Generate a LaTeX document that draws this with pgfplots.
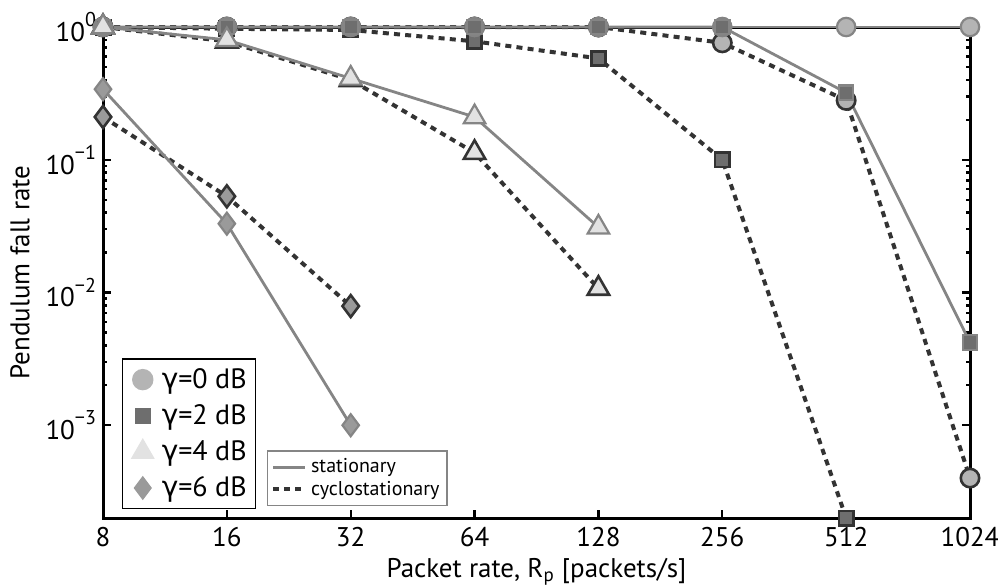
\documentclass[border=0pt]{standalone}
\usepackage{fontspec}
\setmainfont{PT Sans}
\newfontfamily\gfont{DejaVu Sans}
\usepackage{pgfplots}
\pgfplotsset{compat=1.18}

\definecolor{cA}{HTML}{B4B4B4}
\definecolor{cAd}{HTML}{838383}
\definecolor{cB}{HTML}{6E6E6E}
\definecolor{cC}{HTML}{E2E2E2}
\definecolor{cD}{HTML}{9A9A9A}
\definecolor{stat}{HTML}{858585}
\definecolor{cyc}{HTML}{333333}

\newcommand{\expo}[1]{\raisebox{0.55em}{\fontsize{10}{10}\selectfont #1}}

\pgfplotsset{
  stat/.style={color=stat, line width=1.4pt, solid},
  cyc/.style={color=cyc, line width=2pt, dash pattern=on 3pt off 2.6pt},
}

\begin{document}
\begin{tikzpicture}
\useasboundingbox (-51.5pt,-34pt) rectangle (447.5pt,259pt);
\begin{axis}[
  scale only axis, width=433.5pt, height=245.5pt,
  xmode=log, log basis x=2, ymode=log,
  xmin=8, xmax=1024, ymin=2e-4, ymax=1,
  xtick={8,16,32,64,128,256,512,1024},
  xticklabels={8,16,32,64,128,256,512,1024},
  ytick={1e-3,1e-2,1e-1,1},
  yticklabels={10\expo{−3},10\expo{−2},10\expo{−1},10\expo{0}},
  xtick pos=bottom, ytick pos=both,
  tick align=inside,
  major tick length=4pt, minor tick length=2.2pt,
  every tick/.style={black, line width=1.2pt},
  axis line style={line width=1.5pt},
  tick label style={font=\fontsize{13.5}{15}\selectfont},
  xticklabel style={yshift=-1pt},
  label style={font=\fontsize{13.5}{15}\selectfont},
  xlabel={Packet rate, R\textsubscript{p} [packets/s]},
  ylabel={Pendulum fall rate},
  xlabel style={yshift=1pt},
  ylabel style={yshift=1pt},
  clip=false,
  legend style={at={(0.022,0.018)}, anchor=south west, draw=black, line width=0.7pt,
    font=\fontsize{14}{15}\selectfont, row sep=2.6pt, inner sep=2.5pt,
    cells={anchor=west}},
  legend image code/.code={\path[draw=none, fill=none] (0pt,0pt) -- (15pt,0pt);
    \draw[#1] plot coordinates {(7.5pt,0pt)};},
]
\addlegendimage{only marks, mark=*, mark size=5pt, mark options={fill=cA, draw=cA}}
\addlegendimage{only marks, mark=square*, mark size=3.6pt, mark options={fill=cB, draw=cB}}
\addlegendimage{only marks, mark=triangle*, mark size=6.2pt, mark options={fill=cC, draw=cC}}
\addlegendimage{only marks, mark=diamond*, mark size=5.5pt, mark options={fill=cD, draw=cD}}

% cyclostationary
\addplot[cyc, mark=*, mark size=4.6pt, mark options={solid, fill=cA, draw=cyc, line width=1.3pt}]
  coordinates {(8,1) (16,1) (32,1) (64,1) (128,1) (256,0.76) (512,0.28) (1024,4.0e-4)};
\addplot[cyc, mark=square*, mark size=3.6pt, mark options={solid, fill=cB, draw=cyc, line width=1.3pt}]
  coordinates {(8,1) (16,0.97) (32,0.95) (64,0.78) (128,0.58) (256,0.10) (512,2.0e-4)};
\addplot[cyc, mark=triangle*, mark size=6.2pt, mark options={solid, fill=cC, draw=cyc, line width=1.3pt}]
  coordinates {(8,1) (16,0.78) (32,0.40) (64,0.113) (128,0.0107)};
\addplot[cyc, mark=diamond*, mark size=5.5pt, mark options={solid, fill=cD, draw=cyc, line width=1.3pt}]
  coordinates {(8,0.21) (16,0.053) (32,0.0079)};

% stationary
\addplot[stat, mark=*, mark size=4.6pt, mark options={solid, fill=cA, draw=stat, line width=1.1pt}]
  coordinates {(8,1) (16,1) (32,1) (64,1) (128,1) (256,1) (512,1) (1024,1)};
\addplot[only marks, mark=*, mark size=4.8pt, mark options={fill=cAd, draw=cAd}]
  coordinates {(16,1) (32,1) (64,1) (128,1) (256,1)};
\addplot[stat, mark=square*, mark size=3.6pt, mark options={solid, fill=cB, draw=stat, line width=1.1pt}]
  coordinates {(8,1) (16,1) (32,1) (64,1) (128,1) (256,1) (512,0.32) (1024,4.2e-3)};
\addplot[stat, mark=triangle*, mark size=6.2pt, mark options={solid, fill=cC, draw=stat, line width=1.1pt}]
  coordinates {(8,1) (16,0.80) (32,0.41) (64,0.21) (128,0.031)};
\addplot[stat, mark=diamond*, mark size=5.5pt, mark options={solid, fill=cD, draw=stat, line width=1.1pt}]
  coordinates {(8,0.34) (16,0.033) (32,1.0e-3)};

\legend{{\gfont γ}=0 dB,{\gfont γ}=2 dB,{\gfont γ}=4 dB,{\gfont γ}=6 dB}
\end{axis}

\begin{axis}[
  scale only axis, width=433.5pt, height=245.5pt,
  hide axis, xmin=0, xmax=1, ymin=0, ymax=1,
  legend style={at={(0.189,0.024)}, anchor=south west, draw=stat, line width=0.6pt,
    font=\fontsize{10}{10.5}\selectfont, row sep=-1.5pt, inner sep=1.8pt,
    cells={anchor=west}},
  legend image code/.code={\draw[#1] (0pt,0pt) -- (16pt,0pt);},
]
\addlegendimage{stat}
\addlegendimage{cyc}
\legend{stationary,cyclostationary}
\end{axis}
\end{tikzpicture}
\end{document}
